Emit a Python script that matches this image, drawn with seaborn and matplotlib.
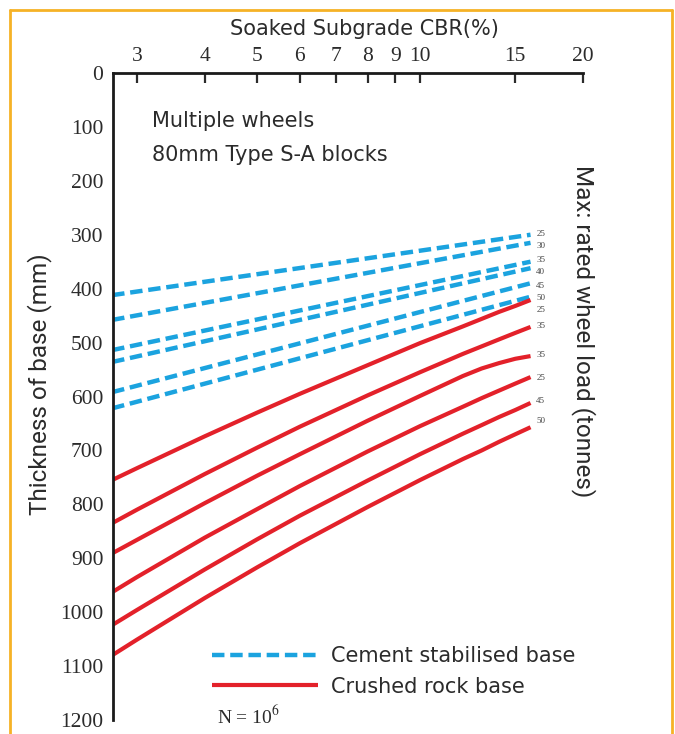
import numpy as np
import pandas as pd
import matplotlib
matplotlib.use("Agg")
import matplotlib.pyplot as plt
import seaborn as sns
from matplotlib.lines import Line2D
from matplotlib.ticker import FixedLocator, FixedFormatter, NullLocator

blue_cbr = [2.7, 16]
red_cbr = [2.7, 3, 4, 5, 6, 8, 10, 12, 13, 14, 15, 16]

# Cement stabilised base (blue dashed, straight on the log axis), thickness mm
blue_loads = ["25", "30", "35", "40", "45", "50"]
blue_25 = [412, 300]
blue_30 = [458, 315]
blue_35 = [514, 350]
blue_40 = [536, 362]
blue_45 = [592, 390]
blue_50 = [622, 415]

# Crushed rock base (red solid, slightly curved), thickness mm
red_loads = ["25", "35", "35", "25", "45", "50"]
red_1 = [755, 733, 674, 630, 595, 542, 501, 470, 456, 443, 432, 421]
red_2 = [835, 810, 744, 695, 656, 598, 555, 521, 507, 494, 482, 471]
red_3 = [891, 866, 798, 747, 707, 645, 599, 562, 548, 538, 530, 525]
red_4 = [963, 935, 862, 809, 766, 702, 655, 619, 603, 589, 576, 564]
red_5 = [1024, 996, 921, 865, 821, 756, 707, 669, 653, 638, 625, 612]
red_6 = [1080, 1051, 974, 917, 872, 805, 755, 716, 700, 684, 670, 657]

# small load labels at the right end of the curves (mm)
label_y = [299, 321, 347, 369, 395, 417, 440, 469, 523, 566, 609, 646]
label_txt = blue_loads + red_loads

x_ticks = [3, 4, 5, 6, 7, 8, 9, 10, 15, 20]
y_ticks = list(range(0, 1300, 100))

blue_series = [blue_25, blue_30, blue_35, blue_40, blue_45, blue_50]
red_series = [red_1, red_2, red_3, red_4, red_5, red_6]

rows = []
for i, s in enumerate(blue_series):
    for c, t in zip(blue_cbr, s):
        rows.append({"cbr": c, "thick": t, "series": f"b{i}"})
for i, s in enumerate(red_series):
    for c, t in zip(red_cbr, s):
        rows.append({"cbr": c, "thick": t, "series": f"r{i}"})
df = pd.DataFrame(rows)

sns.set_style("white")
plt.rcParams["font.family"] = ["DejaVu Sans"]
plt.rcParams["mathtext.fontset"] = "stix"

BLUE = "#1ba3df"
RED = "#e3212a"
TXT = "#2b2b2b"
serif = ["Liberation Serif", "DejaVu Serif"]

fig = plt.figure(figsize=(6.75, 7.34), dpi=100)
ax = fig.add_axes([113 / 675, 1 - 720 / 734, 470 / 675, 647 / 734])

for i in range(6):
    sns.lineplot(data=df[df.series == f"b{i}"], x="cbr", y="thick", ax=ax,
                 color=BLUE, lw=3.2, legend=False)
    ax.lines[-1].set_dashes((2.8, 1.3))
for i in range(6):
    sns.lineplot(data=df[df.series == f"r{i}"], x="cbr", y="thick", ax=ax,
                 color=RED, lw=3.0, legend=False)
    ax.lines[-1].set_solid_capstyle("butt")
    ax.lines[-1].set_solid_joinstyle("round")

ax.set_xscale("log")
ax.set_xlim(2.71, 20)
ax.set_ylim(1200, 0)

ax.xaxis.tick_top()
ax.xaxis.set_label_position("top")
ax.xaxis.set_major_locator(FixedLocator(x_ticks))
ax.xaxis.set_major_formatter(FixedFormatter([str(v) for v in x_ticks]))
ax.xaxis.set_minor_locator(NullLocator())
ax.yaxis.set_major_locator(FixedLocator(y_ticks))
ax.yaxis.set_major_formatter(FixedFormatter([str(v) for v in y_ticks]))

ax.tick_params(axis="x", direction="in", length=7, width=1.6, pad=5,
               labelsize=15.5, colors=TXT)
ax.tick_params(axis="y", direction="in", length=13, width=1.6, pad=7,
               labelsize=15.5, colors=TXT)
for lab in ax.get_xticklabels() + ax.get_yticklabels():
    lab.set_fontfamily(serif)
    lab.set_color(TXT)

for side in ["right", "bottom"]:
    ax.spines[side].set_visible(False)
for side in ["top", "left"]:
    ax.spines[side].set_linewidth(2)
    ax.spines[side].set_color("#1a1a1a")

ax.set_xlabel("Soaked Subgrade CBR(%)", fontsize=15, color=TXT)
ax.xaxis.set_label_coords(0.536, 1.058)
ax.set_ylabel("Thickness of base (mm)", fontsize=17.5, color=TXT,
              family=["Roboto", "DejaVu Sans"])
ax.yaxis.set_label_coords(-0.130, 0.519)

ax.text(1.0, 0.601, "Max: rated wheel load (tonnes)", transform=ax.transAxes,
        rotation=-90, ha="center", va="center", fontsize=17.5, color=TXT,
        family=["Roboto", "DejaVu Sans"])

ax.text(0.083, 0.926, "Multiple wheels", transform=ax.transAxes,
        fontsize=15, color=TXT, va="center")
ax.text(0.083, 0.873, "80mm Type S-A blocks", transform=ax.transAxes,
        fontsize=15, color=TXT, va="center")

for yv, t in zip(label_y, label_txt):
    ax.text(16.4, yv, t, fontsize=6.5, family=["Liberation Serif"],
            color="#444444", va="center", ha="left")

handles = [ax.lines[0], ax.lines[6]]
leg = ax.legend(handles, ["Cement stabilised base", "Crushed rock base"],
                loc="upper left", bbox_to_anchor=(0.2106, 0.114),
                frameon=False, fontsize=15, handlelength=5.1,
                handletextpad=0.62, labelspacing=0.5, borderpad=0,
                borderaxespad=0)
for t in leg.get_texts():
    t.set_color(TXT)

ax.text(0.222, 0.006, r"N = 10$^{6}$", transform=ax.transAxes,
        fontsize=14, family=["Liberation Serif"], color=TXT, va="center")

# orange frame around the figure
ORANGE = "#f6b226"
fx0, fx1, fy1 = 10 / 675, 672 / 675, 1 - 10 / 734
for xs, ys in [([fx0, fx0], [-0.01, fy1]), ([fx0, fx1], [fy1, fy1]),
               ([fx1, fx1], [fy1, -0.01])]:
    fig.add_artist(Line2D(xs, ys, transform=fig.transFigure, color=ORANGE,
                          lw=2))

fig.savefig("out.png", dpi=100)
